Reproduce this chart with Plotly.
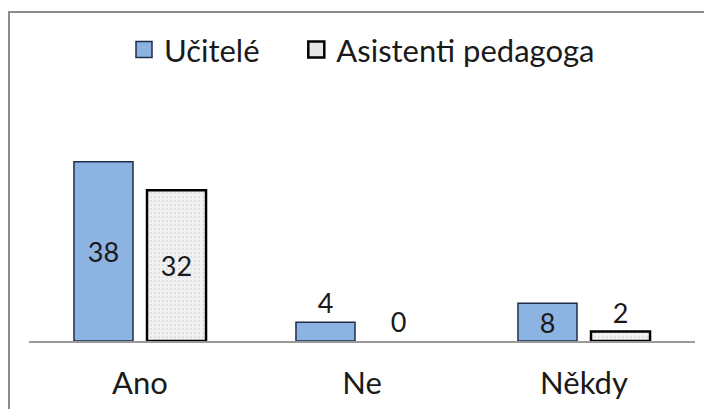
import plotly.graph_objects as go

categories = ["Ano", "Ne", "Někdy"]
ucitele = [38, 4, 8]
asistenti = [32, 0, 2]
series_names = ["Učitelé", "Asistenti pedagoga"]

W, H = 704, 409
L, R, T, B = 29, 9, 143, 68
FONT = "Lato, Open Sans, sans-serif"
BLUE = "#8DB3E2"
BLUE_EDGE = "#1F2D4A"
GREY = "#EEEEEE"

fig = go.Figure()
fig.add_trace(go.Bar(
    name=series_names[0], x=categories, y=ucitele,
    text=[str(v) for v in ucitele],
    textposition=["inside", "outside", "inside"],
    insidetextanchor="middle", textangle=0, constraintext="none",
    textfont=dict(size=27, color="#1a1a1a", family=FONT),
    marker=dict(color=BLUE, line=dict(color=BLUE_EDGE, width=1.5)),
    cliponaxis=False, showlegend=False, hoverinfo="skip",
))
fig.add_trace(go.Bar(
    name=series_names[1], x=categories, y=asistenti,
    text=[str(v) for v in asistenti],
    textposition=["inside", "outside", "outside"],
    insidetextanchor="middle", textangle=0, constraintext="none",
    textfont=dict(size=27, color="#1a1a1a", family=FONT),
    marker=dict(color=GREY,
                line=dict(color="#000000", width=[2.5 if v > 0 else 0 for v in asistenti]),
                pattern=dict(shape=".", fgcolor="#CFCFCF", bgcolor="#F2F2F2",
                             size=4, solidity=0.3)),
    cliponaxis=False, showlegend=False, hoverinfo="skip",
))
# legend entries
fig.add_trace(go.Scatter(name=series_names[0] + "\u00a0" * 4, x=[None], y=[None], mode="markers",
                         marker=dict(symbol="square", size=16, color=BLUE,
                                     line=dict(color=BLUE_EDGE, width=1.5))))
fig.add_trace(go.Scatter(name=series_names[1], x=[None], y=[None], mode="markers",
                         marker=dict(symbol="square", size=16, color="#E6E6E6",
                                     line=dict(color="#000000", width=2.5))))

fig.update_layout(
    width=W, height=H,
    margin=dict(l=L, r=R, t=T, b=B, autoexpand=False),
    paper_bgcolor="white", plot_bgcolor="white",
    barmode="group", bargap=0.342, bargroupgap=0.192,
    showlegend=True,
    legend=dict(orientation="h", x=0.5, xanchor="center", y=1.47, yanchor="middle",
                font=dict(size=31, family=FONT, color="#1a1a1a"),
                itemwidth=30, bgcolor="rgba(0,0,0,0)"),
    font=dict(family=FONT),
    hovermode=False,
)
fig.update_xaxes(showline=True, linecolor="#9a9a9a", linewidth=1.5,
                 ticks="", ticklabelstandoff=14,
                 tickfont=dict(size=31, family=FONT, color="#1a1a1a"),
                 showgrid=False, zeroline=False, automargin=False)
fig.update_yaxes(range=[0, 42], visible=False, showgrid=False, zeroline=False)

# outer chart-area border (left and top edges visible)
pw, ph = W - L - R, H - T - B
fig.add_shape(type="rect", xref="paper", yref="paper",
              x0=(9 - L) / pw, x1=(W + 20 - L) / pw,
              y0=-(B + 20) / ph, y1=(ph + T - 12) / ph,
              line=dict(color="#8c8c8c", width=2), layer="above")

fig.write_html("out.html", config={"displayModeBar": False, "staticPlot": True},
               post_script="document.body.style.margin='0';document.body.style.overflow='hidden';")
